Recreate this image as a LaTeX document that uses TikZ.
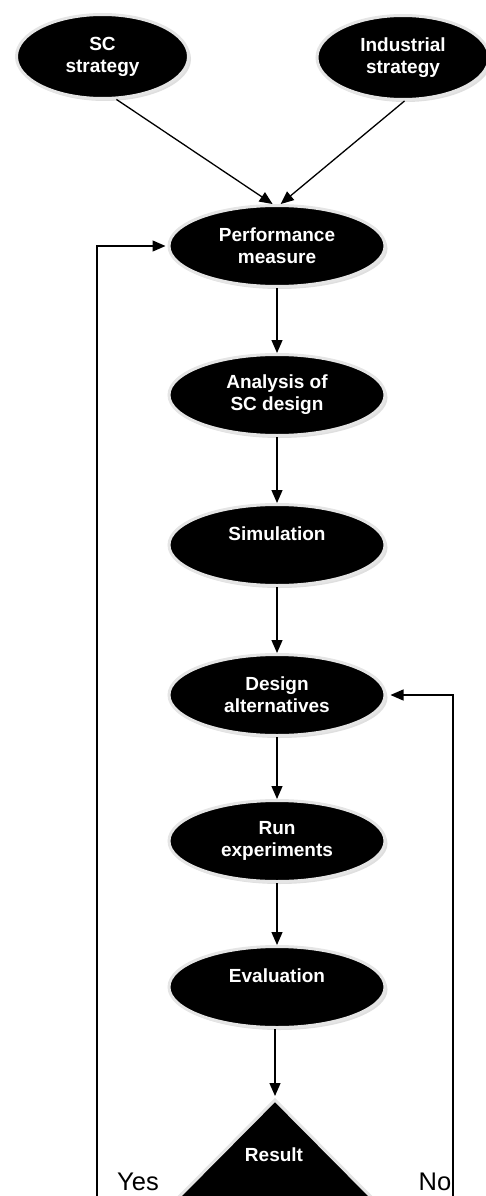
\documentclass[tikz,border=0pt]{standalone}
\usepackage{fontspec}
\setmainfont{Liberation Sans}
\usetikzlibrary{shapes.geometric,arrows.meta,shadows}
\begin{document}
\begin{tikzpicture}[x=1pt,y=-1pt,
  stage/.style={ellipse, fill=black, draw=black!10, line width=3pt, text=white,
    font=\bfseries\fontsize{19}{22}\selectfont, align=center, inner sep=0pt,
    minimum width=216pt, minimum height=81pt,
    drop shadow={opacity=.25, shadow xshift=2.5pt, shadow yshift=-2.5pt}},
  topstage/.style={stage, minimum width=172pt, minimum height=84pt},
  flow/.style={-{Triangle[length=13pt,width=11pt]}, line width=1.3pt},
  answer/.style={font=\fontsize{25.5}{28}\selectfont, anchor=base, inner sep=0pt}]
\useasboundingbox (0,0) rectangle (485,1196);

% strategy inputs
\node[topstage] (sc)  at (102.5,56.5) {SC\\strategy};
\node[topstage] (ind) at (403,57.5) {Industrial\\strategy};

% main chain
\node[stage] (perf) at (277,246) {Performance\\measure};
\node[stage] (ana)  at (277,395) {Analysis of\\SC design};
\node[stage] (sim)  at (277,545) {Simulation\\\phantom{x}};
\node[stage] (des)  at (277,695) {Design\\alternatives};
\node[stage] (run)  at (277,841) {Run\\experiments};
\node[stage] (eval) at (277,987) {Evaluation\\\phantom{x}};

% decision triangle
\coordinate (apex) at (275,1100);
\fill[black!25, opacity=.5] (277.5,1102.5) -- (396.5,1222.5) -- (158.5,1222.5) -- cycle;
\draw[fill=black, draw=black!10, line width=3pt] (apex) -- (394,1220) -- (156,1220) -- cycle;
\node[text=white, font=\bfseries\fontsize{19}{22}\selectfont] (res) at (274,1155) {Result};

\node[answer] (yes) at (138,1190) {Yes};
\node[answer] (no)  at (435,1190) {No};

\coordinate (yesfoot) at (97,1200);
\coordinate (nofoot)  at (453,1200);

% connectors
\draw[flow] (sc.-72) -- (perf.96);
\draw[flow] (ind.-88) -- (perf.85);
\draw[flow] (perf.south) -- (ana.north);
\draw[flow] (ana.south) -- (sim.north);
\draw[flow] (sim.south) -- (des.north);
\draw[flow] (des.south) -- (run.north);
\draw[flow] (run.south) -- (eval.north);
\draw[flow, shorten >=4pt] (eval.south -| apex) -- (apex);
\draw[flow, shorten >=2pt] (yesfoot) |- (perf.west);
\draw[flow, shorten >=4pt] (nofoot) |- (des.east);
\end{tikzpicture}
\end{document}
